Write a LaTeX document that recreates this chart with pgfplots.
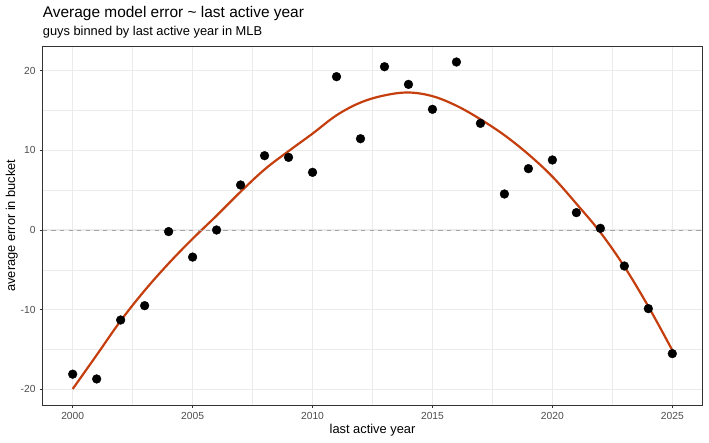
\documentclass[border=0pt]{standalone}
\usepackage{pgfplots}
\pgfplotsset{compat=1.18}
\usepackage{pgfplotstable}
\usepackage{fontspec}
\setmainfont{Liberation Sans}

\definecolor{gridc}{HTML}{EBEBEB}
\definecolor{axc}{HTML}{333333}
\definecolor{tickc}{HTML}{4D4D4D}
\definecolor{fitc}{RGB}{197,62,14}
\definecolor{zeroc}{HTML}{A6A6A6}

% bucket means
\pgfplotstableread{
year err
2000 -18.1
2001 -18.7
2002 -11.3
2003 -9.5
2004 -0.2
2005 -3.4
2006 0.0
2007 5.65
2008 9.33
2009 9.12
2010 7.24
2011 19.25
2012 11.46
2013 20.5
2014 18.28
2015 15.15
2016 21.09
2017 13.39
2018 4.52
2019 7.7
2020 8.79
2021 2.18
2022 0.21
2023 -4.52
2024 -9.87
2025 -15.52
}\points

% loess fit
\pgfplotstableread{
year fit
2000 -19.96
2001 -15.7
2002 -11.4
2003 -7.6
2004 -4.2
2005 -1.1
2006 1.8
2007 4.8
2008 7.6
2009 9.9
2010 12.1
2011 14.4
2012 16.0
2013 16.9
2014 17.26
2015 16.8
2016 15.6
2017 13.9
2018 11.9
2019 9.5
2020 6.7
2021 3.3
2022 -0.3
2023 -4.6
2024 -9.6
2025 -15.1
}\fit

\begin{document}
\begin{tikzpicture}
  \useasboundingbox (-42.7bp,-38bp) rectangle (666.3bp,405bp);
  \begin{axis}[
    scale only axis,
    width=659.6bp, height=359bp,
    xmin=1998.75, xmax=2026.25,
    ymin=-21.97, ymax=23.1,
    xtick={2000,2005,...,2025},
    ytick={-20,-10,...,20},
    minor xtick={2002.5,2007.5,...,2022.5},
    minor ytick={-15,-5,5,15},
    grid=both,
    major grid style={gridc, line width=1.07bp},
    minor grid style={gridc, line width=0.53bp},
    axis line style={axc, line width=0.6bp},
    tick align=outside, tick pos=left,
    major tick length=3bp, minor tick length=0bp,
    every tick/.style={axc, line width=0.6bp},
    /pgf/number format/assume math mode=true,
    x tick label style={/pgf/number format/1000 sep={}},
    ticklabel style={font=\fontsize{10.3}{12}\selectfont, text=tickc, inner sep=0pt},
    xticklabel style={anchor=north, yshift=-4bp},
    yticklabel style={anchor=east, xshift=-4bp},
  ]
    \addplot[only marks, mark=*, mark size=4.4bp, black] table[x=year, y=err] {\points};
    \addplot[fitc, line width=2.2bp, smooth, tension=0.6] table[x=year, y=fit] {\fit};
    \addplot[zeroc, line width=0.6bp, dash pattern=on 4.3bp off 4.3bp] coordinates {(1998.75,0) (2026.25,0)};
  \end{axis}
  \node[anchor=base west, inner sep=0pt, font=\fontsize{15.5}{18}\selectfont] at (0bp,387bp) {Average model error \textasciitilde{} last active year};
  \node[anchor=base west, inner sep=0pt, font=\fontsize{12.9}{15}\selectfont] at (0bp,369bp) {guys binned by last active year in MLB};
  \node[anchor=base, inner sep=0pt, font=\fontsize{12.9}{15}\selectfont] at (329.8bp,-28bp) {last active year};
  \node[anchor=base, rotate=90, inner sep=0pt, font=\fontsize{12.9}{15}\selectfont] at (-27.5bp,179.5bp) {average error in bucket};
\end{tikzpicture}
\end{document}
